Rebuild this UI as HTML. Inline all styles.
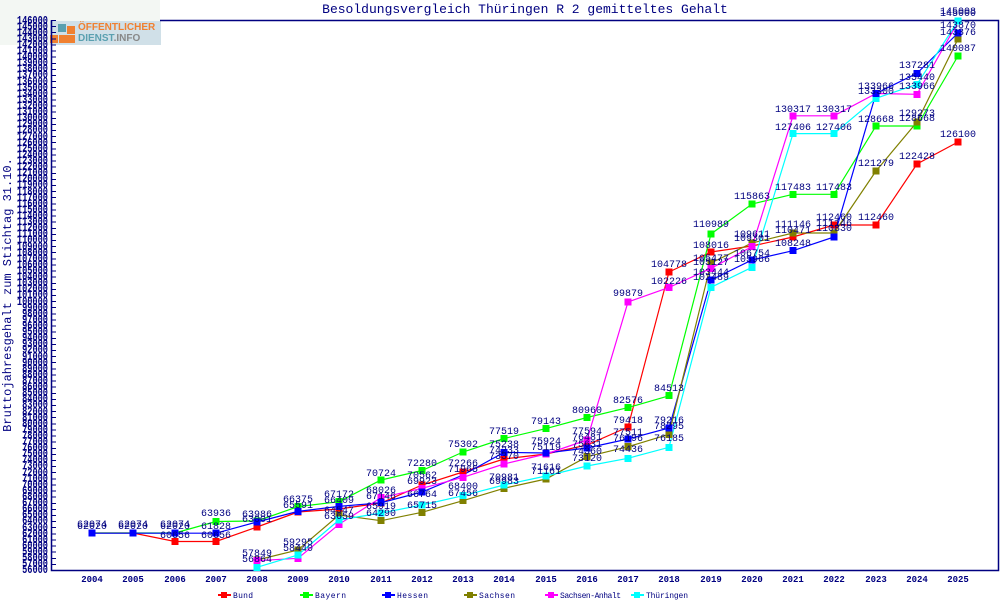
<!DOCTYPE html>
<html><head><meta charset="utf-8"><style>
body{margin:0;background:#fff;width:1000px;height:600px;position:relative;overflow:hidden;font-family:"Liberation Mono","DejaVu Sans Mono",monospace}
#yl{position:absolute;left:0;width:48px;top:17.5px;display:flex;flex-direction:column;color:#000080;font-size:12px;font-weight:bold;text-align:right}
#yl div{height:6.111px;line-height:6.111px;transform:scaleX(0.72);transform-origin:right center}
</style></head><body>
<div style="position:absolute;left:0;top:0;width:160px;height:45px;background:#f3f7f3"></div>
<div style="position:absolute;left:50px;top:21px;width:111px;height:24px;background:#d0e0e8"></div>
<div style="position:absolute;left:58px;top:24px;width:8px;height:8px;background:#5aa0b0"></div>
<div style="position:absolute;left:67px;top:26px;width:8px;height:8px;background:#f08030"></div>
<div style="position:absolute;left:50px;top:35px;width:8px;height:8px;background:#f08030"></div>
<div style="position:absolute;left:59px;top:35px;width:8px;height:8px;background:#f08030"></div>
<div style="position:absolute;left:67px;top:35px;width:8px;height:8px;background:#f08030"></div>
<div style="position:absolute;left:78px;top:22px;font:bold 10px 'Liberation Sans',sans-serif;color:#f08030;line-height:11px">ÖFFENTLICHER</div>
<div style="position:absolute;left:78px;top:33px;font:bold 10px 'Liberation Sans',sans-serif;color:#5aa0b0;line-height:11px">DIENST<span style="color:#888">.INFO</span></div>
<div id="yl">
<div>146000</div><div>145000</div><div>144000</div><div>143000</div><div>142000</div><div>141000</div><div>140000</div><div>139000</div><div>138000</div><div>137000</div><div>136000</div><div>135000</div><div>134000</div><div>133000</div><div>132000</div><div>131000</div><div>130000</div><div>129000</div><div>128000</div><div>127000</div><div>126000</div><div>125000</div><div>124000</div><div>123000</div><div>122000</div><div>121000</div><div>120000</div><div>119000</div><div>118000</div><div>117000</div><div>116000</div><div>115000</div><div>114000</div><div>113000</div><div>112000</div><div>111000</div><div>110000</div><div>109000</div><div>108000</div><div>107000</div><div>106000</div><div>105000</div><div>104000</div><div>103000</div><div>102000</div><div>101000</div><div>100000</div><div>99000</div><div>98000</div><div>97000</div><div>96000</div><div>95000</div><div>94000</div><div>93000</div><div>92000</div><div>91000</div><div>90000</div><div>89000</div><div>88000</div><div>87000</div><div>86000</div><div>85000</div><div>84000</div><div>83000</div><div>82000</div><div>81000</div><div>80000</div><div>79000</div><div>78000</div><div>77000</div><div>76000</div><div>75000</div><div>74000</div><div>73000</div><div>72000</div><div>71000</div><div>70000</div><div>69000</div><div>68000</div><div>67000</div><div>66000</div><div>65000</div><div>64000</div><div>63000</div><div>62000</div><div>61000</div><div>60000</div><div>59000</div><div>58000</div><div>57000</div><div>56000</div>
</div>
<div style="position:absolute;left:52px;top:20px;width:4px;height:551px;background:repeating-linear-gradient(to bottom,#000080 0,#000080 1px,transparent 1px,transparent 6.111px)"></div>
<svg width="1000" height="600" style="position:absolute;left:0;top:0" font-family="Liberation Mono, monospace">
<text x="525" y="13" text-anchor="middle" font-size="13" fill="#000080">Besoldungsvergleich Thüringen R 2 gemitteltes Gehalt</text>
<text transform="translate(11,295) rotate(-90)" text-anchor="middle" font-size="12" fill="#000080">Bruttojahresgehalt zum Stichtag 31.10.</text>
<path d="M51.5 20V570.5H998.5V20.5H160" fill="none" stroke="#000080" stroke-width="1.5"/>
<g font-size="9" font-weight="bold" fill="#000080" text-anchor="middle">
<text x="92" y="582">2004</text><text x="133" y="582">2005</text><text x="175" y="582">2006</text><text x="216" y="582">2007</text><text x="257" y="582">2008</text><text x="298" y="582">2009</text><text x="339" y="582">2010</text><text x="381" y="582">2011</text><text x="422" y="582">2012</text><text x="463" y="582">2013</text><text x="504" y="582">2014</text><text x="546" y="582">2015</text><text x="587" y="582">2016</text><text x="628" y="582">2017</text><text x="669" y="582">2018</text><text x="711" y="582">2019</text><text x="752" y="582">2020</text><text x="793" y="582">2021</text><text x="834" y="582">2022</text><text x="876" y="582">2023</text><text x="917" y="582">2024</text><text x="958" y="582">2025</text>
</g>
<g fill="none" stroke-width="1.2">
<polyline stroke="#ff0000" points="92,533 133,533 175,541.5 216,541.5 257,527 298,512 339,509 381,503 422,485 463,472 504,459 546,454 587,445 628,427 669,272 711,252 752,246 793,237 834,225 876,225 917,164 958,142"/>
<polyline stroke="#00ff00" points="92,533 133,533 175,533 216,521.5 257,521 298,506.6 339,501.7 381,480 422,470.5 463,452 504,438.5 546,428.6 587,417.5 628,407.6 669,395.8 711,234 752,204 793,194.3 834,194.3 876,126 917,126 958,56"/>
<polyline stroke="#0000ff" points="92,533.2 133,533.2 175,533.2 216,533.2 257,522 298,511.4 339,506.4 381,502.8 422,492 463,475 504,452.4 546,453 587,448 628,439 669,428 711,280 752,260 793,250.7 834,237 876,93.5 917,73.3 958,33"/>
<polyline stroke="#808000" points="257,560 298,550 339,515 381,520.7 422,512.3 463,500.7 504,488.3 546,479 587,456.7 628,446.7 669,434.3 711,263 752,243 793,233 834,233 876,171 917,122 958,39"/>
<polyline stroke="#ff00ff" points="257,560.7 298,558.3 339,524.3 381,497.7 422,488.3 463,477.3 504,464 546,454 587,440 628,302 669,287.5 711,268.3 752,246.7 793,115.8 834,115.8 876,93.5 917,94.3 958,22"/>
<polyline stroke="#00ffff" points="257,567.3 298,555 339,520 381,513 422,505 463,495.7 504,485 546,476 587,466 628,458.3 669,447.3 711,287.3 752,267.3 793,133.6 834,133.6 876,98.3 917,84.3 958,21"/>
</g>
<g stroke-width="0">
<g fill="#ff0000"><rect x="88.5" y="529.5" width="7" height="7"/><rect x="129.5" y="529.5" width="7" height="7"/><rect x="171.5" y="538" width="7" height="7"/><rect x="212.5" y="538" width="7" height="7"/><rect x="253.5" y="523.5" width="7" height="7"/><rect x="294.5" y="508.5" width="7" height="7"/><rect x="335.5" y="505.5" width="7" height="7"/><rect x="377.5" y="499.5" width="7" height="7"/><rect x="418.5" y="481.5" width="7" height="7"/><rect x="459.5" y="468.5" width="7" height="7"/><rect x="500.5" y="455.5" width="7" height="7"/><rect x="542.5" y="450.5" width="7" height="7"/><rect x="583.5" y="441.5" width="7" height="7"/><rect x="624.5" y="423.5" width="7" height="7"/><rect x="665.5" y="268.5" width="7" height="7"/><rect x="707.5" y="248.5" width="7" height="7"/><rect x="748.5" y="242.5" width="7" height="7"/><rect x="789.5" y="233.5" width="7" height="7"/><rect x="830.5" y="221.5" width="7" height="7"/><rect x="872.5" y="221.5" width="7" height="7"/><rect x="913.5" y="160.5" width="7" height="7"/><rect x="954.5" y="138.5" width="7" height="7"/></g>
<g fill="#00ff00"><rect x="212.5" y="518" width="7" height="7"/><rect x="253.5" y="517.5" width="7" height="7"/><rect x="294.5" y="503" width="7" height="7"/><rect x="335.5" y="498" width="7" height="7"/><rect x="377.5" y="476.5" width="7" height="7"/><rect x="418.5" y="467" width="7" height="7"/><rect x="459.5" y="448.5" width="7" height="7"/><rect x="500.5" y="435" width="7" height="7"/><rect x="542.5" y="425" width="7" height="7"/><rect x="583.5" y="414" width="7" height="7"/><rect x="624.5" y="404" width="7" height="7"/><rect x="665.5" y="392" width="7" height="7"/><rect x="707.5" y="230.5" width="7" height="7"/><rect x="748.5" y="200.5" width="7" height="7"/><rect x="789.5" y="191" width="7" height="7"/><rect x="830.5" y="191" width="7" height="7"/><rect x="872.5" y="122.5" width="7" height="7"/><rect x="913.5" y="122.5" width="7" height="7"/><rect x="954.5" y="52.5" width="7" height="7"/></g>
<g fill="#808000"><rect x="253.5" y="556.5" width="7" height="7"/><rect x="294.5" y="546.5" width="7" height="7"/><rect x="335.5" y="511.5" width="7" height="7"/><rect x="377.5" y="517" width="7" height="7"/><rect x="418.5" y="509" width="7" height="7"/><rect x="459.5" y="497" width="7" height="7"/><rect x="500.5" y="485" width="7" height="7"/><rect x="542.5" y="475.5" width="7" height="7"/><rect x="583.5" y="453" width="7" height="7"/><rect x="624.5" y="443" width="7" height="7"/><rect x="665.5" y="431" width="7" height="7"/><rect x="707.5" y="259.5" width="7" height="7"/><rect x="748.5" y="239.5" width="7" height="7"/><rect x="789.5" y="229.5" width="7" height="7"/><rect x="830.5" y="229.5" width="7" height="7"/><rect x="872.5" y="167.5" width="7" height="7"/><rect x="913.5" y="118.5" width="7" height="7"/><rect x="954.5" y="35.5" width="7" height="7"/></g>
<g fill="#ff00ff"><rect x="253.5" y="557" width="7" height="7"/><rect x="294.5" y="555" width="7" height="7"/><rect x="335.5" y="521" width="7" height="7"/><rect x="377.5" y="494" width="7" height="7"/><rect x="418.5" y="485" width="7" height="7"/><rect x="459.5" y="474" width="7" height="7"/><rect x="500.5" y="460.5" width="7" height="7"/><rect x="542.5" y="450.5" width="7" height="7"/><rect x="583.5" y="436.5" width="7" height="7"/><rect x="624.5" y="298.5" width="7" height="7"/><rect x="665.5" y="284" width="7" height="7"/><rect x="707.5" y="265" width="7" height="7"/><rect x="748.5" y="243" width="7" height="7"/><rect x="789.5" y="112.5" width="7" height="7"/><rect x="830.5" y="112.5" width="7" height="7"/><rect x="872.5" y="90" width="7" height="7"/><rect x="913.5" y="91" width="7" height="7"/></g>
<g fill="#00ffff"><rect x="253.5" y="564" width="7" height="7"/><rect x="294.5" y="551.5" width="7" height="7"/><rect x="335.5" y="516.5" width="7" height="7"/><rect x="377.5" y="509.5" width="7" height="7"/><rect x="418.5" y="501.5" width="7" height="7"/><rect x="459.5" y="492" width="7" height="7"/><rect x="500.5" y="481.5" width="7" height="7"/><rect x="542.5" y="472.5" width="7" height="7"/><rect x="583.5" y="462.5" width="7" height="7"/><rect x="624.5" y="455" width="7" height="7"/><rect x="665.5" y="444" width="7" height="7"/><rect x="707.5" y="284" width="7" height="7"/><rect x="748.5" y="264" width="7" height="7"/><rect x="789.5" y="130" width="7" height="7"/><rect x="830.5" y="130" width="7" height="7"/><rect x="872.5" y="95" width="7" height="7"/><rect x="913.5" y="81" width="7" height="7"/><rect x="954.5" y="17.5" width="7" height="7"/></g>
<g fill="#0000ff"><rect x="88.5" y="529.5" width="7" height="7"/><rect x="129.5" y="529.5" width="7" height="7"/><rect x="171.5" y="529.5" width="7" height="7"/><rect x="212.5" y="529.5" width="7" height="7"/><rect x="253.5" y="518.5" width="7" height="7"/><rect x="294.5" y="508" width="7" height="7"/><rect x="335.5" y="503" width="7" height="7"/><rect x="377.5" y="499" width="7" height="7"/><rect x="418.5" y="488.5" width="7" height="7"/><rect x="500.5" y="449" width="7" height="7"/><rect x="542.5" y="449.5" width="7" height="7"/><rect x="583.5" y="444.5" width="7" height="7"/><rect x="624.5" y="435.5" width="7" height="7"/><rect x="665.5" y="424.5" width="7" height="7"/><rect x="707.5" y="276.5" width="7" height="7"/><rect x="748.5" y="256.5" width="7" height="7"/><rect x="789.5" y="247" width="7" height="7"/><rect x="830.5" y="233.5" width="7" height="7"/><rect x="872.5" y="90" width="7" height="7"/><rect x="913.5" y="70" width="7" height="7"/><rect x="954.5" y="29.5" width="7" height="7"/></g>
</g>
<g font-size="10" fill="#000080" text-anchor="middle">
<text x="92" y="529">62020</text><text x="92" y="527">62074</text><text x="133" y="529">62020</text><text x="133" y="527">62074</text><text x="175" y="529">62020</text><text x="175" y="527">62074</text><text x="175" y="538">60656</text><text x="216" y="538">60656</text><text x="216" y="516">63936</text><text x="216" y="529">61828</text>
<text x="257" y="517">63986</text><text x="257" y="522">63001</text><text x="257" y="556">57849</text><text x="257" y="562">56864</text>
<text x="298" y="502">66375</text><text x="298" y="508">65591</text><text x="298" y="545">59295</text><text x="298" y="551">58440</text>
<text x="339" y="497">67172</text><text x="339" y="503">66409</text><text x="339" y="513">64547</text><text x="339" y="519">63659</text>
<text x="381" y="476">70724</text><text x="381" y="493">68026</text><text x="381" y="499">67146</text><text x="381" y="509">65919</text><text x="381" y="516">64290</text>
<text x="422" y="466">72280</text><text x="422" y="478">70562</text><text x="422" y="484">69923</text><text x="422" y="497">66764</text><text x="422" y="508">65715</text>
<text x="463" y="447">75302</text><text x="463" y="466">72266</text><text x="463" y="472">71965</text><text x="463" y="489">68400</text><text x="463" y="496">67456</text>
<text x="504" y="434">77519</text><text x="504" y="447">75238</text><text x="504" y="453">74233</text><text x="504" y="459">73370</text><text x="504" y="480">70981</text><text x="504" y="484">69983</text>
<text x="546" y="424">79143</text><text x="546" y="444">75924</text><text x="546" y="450">75119</text><text x="546" y="470">71616</text><text x="546" y="474">71161</text>
<text x="587" y="413">80960</text><text x="587" y="434">77594</text><text x="587" y="440">76481</text><text x="587" y="447">75631</text><text x="587" y="454">74360</text><text x="587" y="461">73120</text>
<text x="628" y="296">99879</text><text x="628" y="403">82576</text><text x="628" y="423">79418</text><text x="628" y="435">77511</text><text x="628" y="441">76196</text><text x="628" y="452">74436</text>
<text x="669" y="267">104778</text><text x="669" y="284">102226</text><text x="669" y="391">84513</text><text x="669" y="423">79216</text><text x="669" y="429">78295</text><text x="669" y="441">76185</text>
<text x="711" y="227">110989</text><text x="711" y="248">108016</text><text x="711" y="261">105477</text><text x="711" y="265">105127</text><text x="711" y="275">103444</text><text x="711" y="280">102489</text>
<text x="752" y="199">115863</text><text x="752" y="237">109611</text><text x="752" y="241">109301</text><text x="752" y="256">106754</text><text x="752" y="262">105966</text>
<text x="793" y="112">130317</text><text x="793" y="130">127406</text><text x="793" y="190">117483</text><text x="793" y="227">111146</text><text x="793" y="233">110471</text><text x="793" y="246">108248</text>
<text x="834" y="112">130317</text><text x="834" y="130">127406</text><text x="834" y="190">117483</text><text x="834" y="220">112460</text><text x="834" y="226">111146</text><text x="834" y="231">110830</text>
<text x="876" y="89">133966</text><text x="876" y="94">133300</text><text x="876" y="122">128668</text><text x="876" y="166">121279</text><text x="876" y="220">112460</text>
<text x="917" y="68">137281</text><text x="917" y="80">135440</text><text x="917" y="89">133966</text><text x="917" y="116">129273</text><text x="917" y="121">128668</text><text x="917" y="159">122428</text>
<text x="958" y="16">145000</text><text x="958" y="14">145008</text><text x="958" y="28">143870</text><text x="958" y="35">143376</text><text x="958" y="51">140087</text><text x="958" y="137">126100</text>
</g>
<g font-size="8" fill="#000080">
<rect x="221" y="592" width="6" height="6" fill="#ff0000"/><line x1="218" y1="595" x2="231" y2="595" stroke="#ff0000" stroke-width="2"/><text x="233" y="598" textLength="20">Bund</text>
<rect x="303" y="592" width="6" height="6" fill="#00ff00"/><line x1="300" y1="595" x2="313" y2="595" stroke="#00ff00" stroke-width="2"/><text x="315" y="598" textLength="31">Bayern</text>
<rect x="385" y="592" width="6" height="6" fill="#0000ff"/><line x1="382" y1="595" x2="395" y2="595" stroke="#0000ff" stroke-width="2"/><text x="397" y="598" textLength="31">Hessen</text>
<rect x="467" y="592" width="6" height="6" fill="#808000"/><line x1="464" y1="595" x2="477" y2="595" stroke="#808000" stroke-width="2"/><text x="479" y="598" textLength="36">Sachsen</text>
<rect x="548" y="592" width="6" height="6" fill="#ff00ff"/><line x1="545" y1="595" x2="558" y2="595" stroke="#ff00ff" stroke-width="2"/><text x="560" y="598" textLength="61">Sachsen-Anhalt</text>
<rect x="634" y="592" width="6" height="6" fill="#00ffff"/><line x1="631" y1="595" x2="644" y2="595" stroke="#00ffff" stroke-width="2"/><text x="646" y="598" textLength="42">Thüringen</text>
</g>
</svg>
</body></html>
